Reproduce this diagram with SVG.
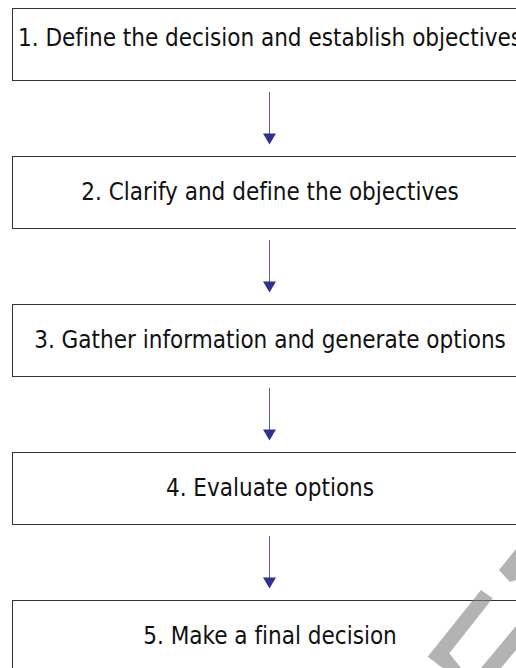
<svg xmlns="http://www.w3.org/2000/svg" width="516" height="668" viewBox="0 0 516 668">
<defs>
<style>
.box{fill:#ffffff;stroke:#333333;stroke-width:1}
.lbl{font-family:"DejaVu Sans Condensed","DejaVu Sans",sans-serif;font-stretch:condensed;font-size:24px;fill:#111111;text-anchor:middle;font-variant-ligatures:none}
.conn{stroke:#5c5cad;stroke-width:1;fill:none}
.head{fill:#2e3192}
.wm{fill:#808080;fill-opacity:0.6}
</style>
</defs>
<rect width="516" height="668" fill="#ffffff"/>
<g id="node1"><rect class="box" x="12.5" y="8.5" width="515" height="72"/><text class="lbl" x="270" y="46">1. Define the decision and establish objectives</text></g>
<g id="node2"><rect class="box" x="12.5" y="156.5" width="515" height="72"/><text class="lbl" x="270" y="200">2. Clarify and define the objectives</text></g>
<g id="node3"><rect class="box" x="12.5" y="304.5" width="515" height="72"/><text class="lbl" x="270" y="348">3. Gather information and generate options</text></g>
<g id="node4"><rect class="box" x="12.5" y="452.5" width="515" height="72"/><text class="lbl" x="270" y="496">4. Evaluate options</text></g>
<g id="node5"><rect class="box" x="12.5" y="600.5" width="515" height="72"/><text class="lbl" x="270" y="644">5. Make a final decision</text></g>
<g id="connectors">
<line class="conn" x1="269.5" y1="92" x2="269.5" y2="134"/><polygon class="head" points="263,133.5 276,133.5 269.5,144.5"/>
<line class="conn" x1="269.5" y1="240" x2="269.5" y2="282"/><polygon class="head" points="263,281.5 276,281.5 269.5,292.5"/>
<line class="conn" x1="269.5" y1="388" x2="269.5" y2="430"/><polygon class="head" points="263,429.5 276,429.5 269.5,440.5"/>
<line class="conn" x1="269.5" y1="536" x2="269.5" y2="578"/><polygon class="head" points="263,577.5 276,577.5 269.5,588.5"/>
</g>
<g id="watermark">
<polygon class="wm" points="516,549 499,570 510,582 516,580"/>
<polygon class="wm" points="481,590 492.7,598.3 449.3,653.3 461,668 442.7,668 427.7,656.7"/>
<polygon class="wm" points="516,626 481,668 501,668 516,650"/>
</g>
</svg>
